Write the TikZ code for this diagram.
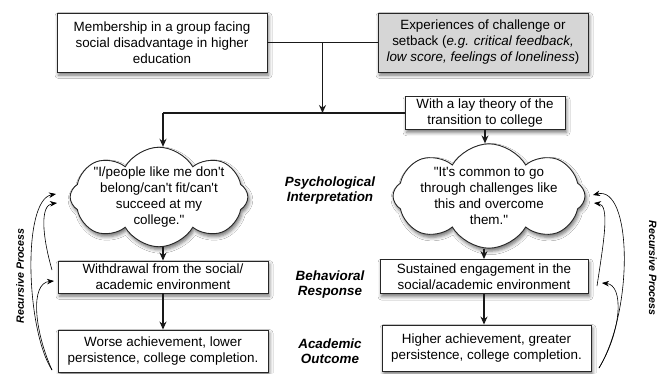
\documentclass[tikz,border=0pt]{standalone}
\usepackage{fontspec}
\setmainfont{Liberation Sans}
\usetikzlibrary{arrows.meta,shapes.symbols,shadows.blur,calc}
\newcommand{\ap}{\textquotesingle}
\newcommand{\qt}{\textquotedbl}

\begin{document}
\begin{tikzpicture}[x=1pt, y=-1pt, >={Stealth[length=8pt, width=7pt]},
    every node/.style={font=\fontsize{13.4}{16}\selectfont, align=center},
    box/.style={draw=black!85, line width=0.9pt, fill=white, inner sep=2pt,
      blur shadow={shadow xshift=1.5pt, shadow yshift=-3pt, shadow blur radius=3.5pt, shadow opacity=55}},
    thought/.style={box, cloud, cloud puffs=8, cloud puff arc=120, aspect=2.7, inner xsep=-3pt, inner ysep=-15pt},
    stage/.style={font=\fontsize{13.4}{15.5}\selectfont\bfseries\itshape},
    recur/.style={font=\fontsize{10.6}{12}\selectfont\bfseries\itshape},
    link/.style={line width=1.3pt, black!90},
    feedback/.style={line width=0.6pt, ->, >={Stealth[length=7pt, width=5.5pt]}}]
    \path[use as bounding box, fill=white] (0,0) rectangle (659,373);

    \node[box, minimum width=210pt, minimum height=59pt] (member) at (162,42.5) {Membership in a group facing\\ social disadvantage in higher\\ education};
    \node[box, fill=black!16, minimum width=210pt, minimum height=59pt] (setback) at (483,42.5) {Experiences of challenge or\\ setback (\textit{e.g. critical feedback,}\\ \textit{low score, feelings of loneliness})};
    \node[box, minimum width=160pt, minimum height=30pt] (laytheory) at (485,113) {With a lay theory of the\\ transition to college};

    \node[thought, minimum width=172pt, minimum height=62pt] (cloudL) at (159,197) {\qt I/people like me don\ap{}t\\ belong/can\ap{}t fit/can\ap{}t\\ succeed at my\\ college.\qt};
    \node[thought, minimum width=192pt, minimum height=64pt] (cloudR) at (489,196) {\qt It\ap{}s common to go\\ through challenges like\\ this and overcome\\ them.\qt};

    \node[box, minimum width=210pt, minimum height=32pt] (withdraw) at (163,277) {Withdrawal from the social/\\ academic environment};
    \node[box, minimum width=208pt, minimum height=34pt] (sustain) at (484,276.5) {Sustained engagement in the\\ social/academic environment};
    \node[box, minimum width=210pt, minimum height=42pt] (worse) at (163,351) {Worse achievement, lower\\ persistence, college completion.};
    \node[box, minimum width=209pt, minimum height=46pt] (higher) at (486.5,348) {Higher achievement, greater\\ persistence, college completion.};

    \node[stage] (psych) at (330,190.5) {Psychological\\Interpretation};
    \node[stage] (behav) at (330,284.5) {Behavioral\\Response};
    \node[stage] (outcome) at (330,351) {Academic\\Outcome};
    \node[recur, rotate=90] (recurL) at (20,276) {Recursive Process};
    \node[recur, rotate=-90] (recurR) at (653,268) {Recursive Process};

    \coordinate (join) at ($(member.east)!0.5!(setback.west)$);
    \coordinate (fork) at (laytheory.west -| withdraw.north);
    \draw[link] (member.east) -- (setback.west);
    \draw[link, ->] (join) -- (join |- laytheory.west);
    \draw[link] (fork) -- (laytheory.west);
    \draw[link, ->] (fork) -- (fork |- cloudL.north);
    \draw[link, ->] (laytheory.south) -- (laytheory.south |- cloudR.north);
    \draw[link, ->] (withdraw.north |- cloudL.south) -- (withdraw.north);
    \draw[link, ->] (withdraw.south) -- (withdraw.south |- worse.north);
    \draw[link, ->] (sustain.north |- cloudR.south) -- (sustain.north);
    \draw[link, ->] (sustain.south) -- (sustain.south |- higher.north);

    \coordinate (baseL) at (52,370);
    \coordinate (midL) at (52,270);
    \coordinate (tipL1) at (56,194);
    \coordinate (tipL2) at (57,203);
    \coordinate (tipL3) at (54,281);
    \draw[feedback] (baseL) .. controls (26,330) and (22,200) .. (tipL1);
    \draw[feedback] (midL) .. controls (42,235) and (40,205) .. (tipL2);
    \draw[feedback] (baseL) .. controls (34,330) and (30,283) .. (tipL3);

    \coordinate (baseR) at (599,368);
    \coordinate (midR) at (597,286);
    \coordinate (tipR1) at (593,195);
    \coordinate (tipR2) at (594,203);
    \coordinate (tipR3) at (602,283);
    \draw[feedback] (baseR) .. controls (634,310) and (632,185) .. (tipR1);
    \draw[feedback] (midR) .. controls (604,240) and (610,205) .. (tipR2);
    \draw[feedback] (baseR) .. controls (622,330) and (624,285) .. (tipR3);
  \end{tikzpicture}
\end{document}
